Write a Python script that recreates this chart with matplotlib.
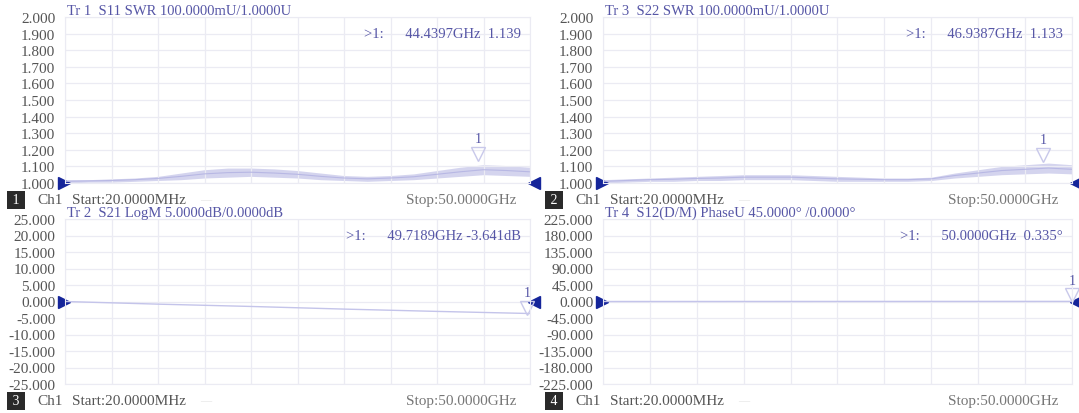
import matplotlib
matplotlib.use("Agg")
import matplotlib.pyplot as plt
import matplotlib.transforms as mtransforms
import numpy as np

# frequency grid of the read-off points (GHz)
freq_ghz = [0.02, 2.5, 5, 7.5, 10, 12.5, 15, 17.5, 20, 22.5, 25,
            27.5, 30, 32.5, 35, 37.5, 40, 42.5, 45, 47.5, 50]

# S11 SWR trace envelope (noisy band)
s11_upper = [1.02, 1.02, 1.025, 1.03, 1.04, 1.06, 1.08, 1.09, 1.09, 1.085, 1.075,
             1.06, 1.045, 1.04, 1.045, 1.055, 1.075, 1.095, 1.11, 1.105, 1.095]
s11_lower = [1.00, 1.005, 1.005, 1.01, 1.015, 1.02, 1.03, 1.035, 1.04, 1.035, 1.03,
             1.02, 1.015, 1.01, 1.015, 1.02, 1.03, 1.04, 1.05, 1.045, 1.04]

# S22 SWR trace envelope
s22_upper = [1.02, 1.025, 1.03, 1.035, 1.04, 1.045, 1.05, 1.05, 1.05, 1.045, 1.04,
             1.035, 1.03, 1.03, 1.035, 1.06, 1.08, 1.10, 1.11, 1.12, 1.11]
s22_lower = [1.00, 1.005, 1.01, 1.01, 1.015, 1.015, 1.02, 1.02, 1.02, 1.015, 1.01,
             1.01, 1.01, 1.01, 1.015, 1.03, 1.04, 1.05, 1.055, 1.06, 1.055]

# S21 LogM (dB) and S12 phase (deg)
s21_freq = [0.02, 10, 20, 30, 40, 50]
s21_db = [0.0, -0.8, -1.5, -2.3, -3.0, -3.64]
s12_freq = [0.02, 25, 50]
s12_phase = [0.0, 0.2, 0.335]

# panel texts
titles = ["Tr 1  S11 SWR 100.0000mU/1.0000U",
          "Tr 3  S22 SWR 100.0000mU/1.0000U",
          "Tr 2  S21 LogM 5.0000dB/0.0000dB",
          "Tr 4  S12(D/M) PhaseU 45.0000\u00b0 /0.0000\u00b0"]
readouts = [">1:      44.4397GHz  1.139",
            ">1:      46.9387GHz  1.133",
            ">1:      49.7189GHz -3.641dB",
            ">1:      50.0000GHz  0.335\u00b0"]
marker_pos = [(44.4397, 1.139), (46.9387, 1.133), (49.7189, -3.641), (50.0, 0.335)]
channel_ids = ["1", "2", "3", "4"]
y_ranges = [(1.0, 2.0, 1.0), (1.0, 2.0, 1.0), (-25.0, 25.0, 0.0), (-225.0, 225.0, 0.0)]

TEXT_BLUE = "#5656a6"
TRACE = "#b8b8e4"
GRID = "#ebebf3"
REF_BLUE = "#15259a"

plt.rcParams["font.family"] = ["Liberation Serif", "DejaVu Serif"]

fig = plt.figure(figsize=(10.79, 4.14), dpi=100)
W, H = 1079.0, 414.0


def px_axes(x0, y0, x1, y1):
    return fig.add_axes([x0 / W, 1 - y1 / H, (x1 - x0) / W, (y1 - y0) / H])


axes = [px_axes(65, 18, 530, 184), px_axes(603, 18, 1072, 184),
        px_axes(65, 220, 530, 385), px_axes(603, 220, 1072, 385)]


def style_axes(ax, ymin, ymax, ref):
    ax.set_xlim(0.02, 50)
    ax.set_ylim(ymin, ymax)
    ax.set_xticks(np.linspace(0.02, 50, 11))
    ax.set_yticks(np.linspace(ymin, ymax, 11))
    ax.set_yticklabels([f"{v:.3f}" for v in np.linspace(ymin, ymax, 11)])
    ax.tick_params(axis="x", length=0, labelbottom=False)
    ax.tick_params(axis="y", length=0, pad=7, labelsize=11, labelcolor="#555555")
    ax.grid(True, color=GRID, lw=0.9)
    for sp in ax.spines.values():
        sp.set_color(GRID)
    # reference level arrows
    blend = mtransforms.blended_transform_factory(ax.transAxes, ax.transData)
    ax.plot([0], [ref], marker=">", color=REF_BLUE, ms=8, clip_on=False,
            transform=blend + mtransforms.ScaledTranslation(-1 / 100, 0, fig.dpi_scale_trans))
    ax.plot([1], [ref], marker="<", color=REF_BLUE, ms=8, clip_on=False,
            transform=blend + mtransforms.ScaledTranslation(4 / 100, 0, fig.dpi_scale_trans))


def draw_marker(ax, x, y):
    tri = mtransforms.offset_copy(ax.transData, fig=fig, y=6, units="dots")
    ax.plot([x], [y], marker="v", ms=10, mfc="none", mec="#c8c8ea", mew=1.0,
            transform=tri, clip_on=False)
    ax.annotate("1", (x, y), xytext=(0, 21), textcoords="offset pixels",
                ha="center", va="center", fontsize=10, color=TEXT_BLUE,
                annotation_clip=False)


for i, ax in enumerate(axes):
    ymin, ymax, ref = y_ranges[i]
    style_axes(ax, ymin, ymax, ref)

    if i == 0:
        ax.fill_between(freq_ghz, s11_lower, s11_upper, color=TRACE, alpha=0.6, lw=0)
        ax.plot(freq_ghz, (np.array(s11_lower) + np.array(s11_upper)) / 2, color=TRACE, lw=0.8)
    elif i == 1:
        ax.fill_between(freq_ghz, s22_lower, s22_upper, color=TRACE, alpha=0.6, lw=0)
        ax.plot(freq_ghz, (np.array(s22_lower) + np.array(s22_upper)) / 2, color=TRACE, lw=0.8)
    elif i == 2:
        ax.plot(s21_freq, s21_db, color="#c4c4ea", lw=1.0)
    else:
        ax.plot(s12_freq, s12_phase, color="#c4c4ea", lw=1.0)

    draw_marker(ax, *marker_pos[i])

    ax.text(0.005, 1.0, titles[i], transform=ax.transAxes, ha="left", va="bottom",
            fontsize=10.5, color=TEXT_BLUE)
    ax.text(0.98, 0.9, readouts[i], transform=ax.transAxes, ha="right", va="center",
            fontsize=10.5, color=TEXT_BLUE)

# channel status bars
for i, ax in enumerate(axes):
    pos = ax.get_position()
    y_fig = pos.y0 - 17 / H
    x_left = 9 / W if pos.x0 < 0.5 else 547 / W
    fig.text(x_left, y_fig, " " + channel_ids[i] + " ", fontsize=10, color="white",
             va="center", ha="left",
             bbox=dict(boxstyle="square,pad=0.15", fc="#2a2a2a", ec="none"))
    fig.text(x_left + 28 / W, y_fig, "Ch1", fontsize=11, color="#555555", va="center")
    fig.text(pos.x0 + 7 / W, y_fig, "Start:20.0000MHz", fontsize=11, color="#555555",
             va="center")
    fig.text(pos.x0 + 135 / W, y_fig, "\u2014", fontsize=8, color="#e0e0e0", va="center")
    fig.text(pos.x1 - 14 / W, y_fig, "Stop:50.0000GHz", fontsize=11, color="#777777",
             va="center", ha="right")

fig.savefig("out.png", dpi=100, facecolor="white")
